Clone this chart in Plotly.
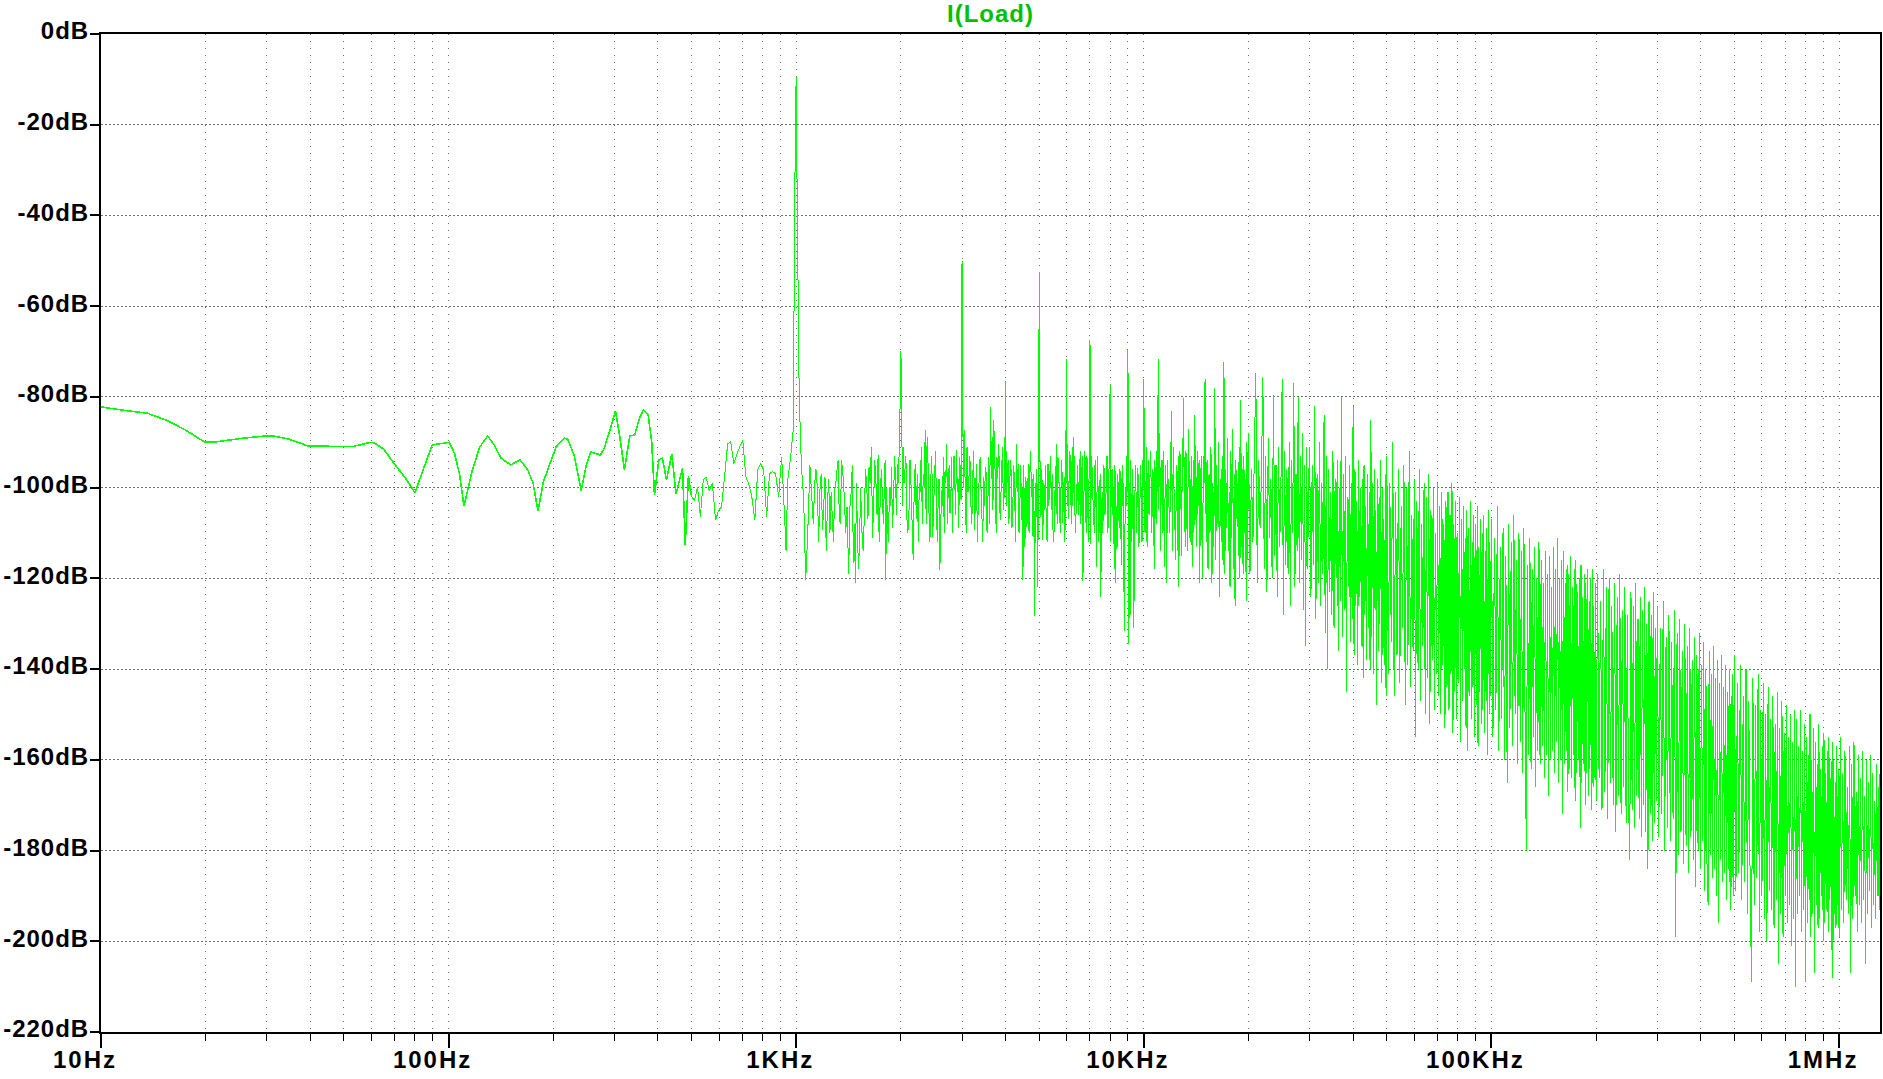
import plotly.graph_objects as go

# ---------------- data ----------------
# Low-frequency smooth part (Hz, dB)
lf_freq_hz = [10, 11.5, 13.6, 15.5, 17.5, 19.9, 21.4, 25.6, 29.8, 31.3,
              34.7, 39.4, 46, 53.3, 59.8, 61.3, 65, 70.5, 75, 80,
              85, 89.7, 100.5, 104, 107.5, 110.7, 117, 123, 129.5, 135,
              141.5, 150.8, 160.5, 169, 175, 180.8, 187, 194, 204, 214.8,
              220, 230, 240.7, 249, 256.5, 273.3, 280, 292, 302, 311,
              320.5, 332, 343, 353, 363, 375, 384, 391, 402.5, 412,
              423.6, 438.7, 451, 471, 479.5, 489.5]
lf_db = [-82.2, -82.9, -83.6, -85.2, -87.3, -90.0, -89.9, -89.1, -88.6, -88.6,
         -89.3, -90.8, -90.9, -90.9, -90.0, -90.2, -91.5, -95.2, -97.8, -101.1,
         -95.5, -90.6, -90.0, -92.5, -97.0, -104.1, -96.1, -91.0, -88.6, -90.5,
         -93.5, -95.0, -93.9, -96.1, -99.0, -105.2, -99.0, -95.4, -91.0, -89.1,
         -89.3, -93.0, -100.7, -95.0, -92.1, -92.8, -91.4, -87.0, -83.1, -89.0,
         -96.0, -88.6, -88.4, -85.0, -82.9, -83.9, -90.0, -101.5, -93.9, -93.5,
         -98.3, -92.6, -101.4, -95.7, -112.6, -97.5]

# Mid part 500 Hz - 6.4 kHz (fundamental and low harmonics)
mf1_freq_hz = [500, 510, 520, 530, 540, 550, 562, 574, 586, 598,
               610, 622, 635, 648, 661, 674, 688, 702, 716, 730,
               745, 760, 775, 790, 806, 822, 838, 855, 872, 890,
               908, 926, 935, 945, 964, 980, 995, 1000, 1006, 1020,
               1035, 1050, 1065, 1080, 1095, 1110, 1130, 1150, 1170, 1190,
               1210, 1230, 1250, 1270, 1290, 1310, 1330, 1350, 1375, 1400,
               1415, 1440, 1460, 1480, 1500, 1520, 1545, 1570, 1595, 1620,
               1645, 1670, 1695, 1720, 1745, 1770, 1795, 1810, 1830, 1855,
               1880, 1905, 1930, 1955, 1980, 1992, 2000, 2010, 2030, 2055,
               2080, 2110, 2140, 2170, 2200, 2230, 2260, 2290, 2320, 2350,
               2380, 2410, 2440, 2470, 2500, 2530, 2560, 2590, 2620, 2650,
               2680, 2710, 2740, 2770, 2800, 2830, 2860, 2890, 2920, 2950,
               2980, 2995, 3000, 3010, 3040, 3070, 3100, 3140, 3180, 3220,
               3260, 3300, 3340, 3380, 3420, 3460, 3500, 3540, 3580, 3620,
               3660, 3700, 3740, 3780, 3820, 3860, 3900, 3940, 3975, 4000,
               4030, 4070, 4110, 4150, 4200, 4250, 4300, 4350, 4400, 4450,
               4490, 4530, 4570, 4610, 4650, 4700, 4750, 4800, 4850, 4900,
               4950, 4985, 5000, 5015, 5060, 5120, 5180, 5240, 5300, 5360,
               5420, 5480, 5540, 5600, 5660, 5720, 5780, 5840, 5900, 5960,
               6000, 6040, 6100, 6160, 6220, 6280, 6340, 6400]
mf1_db = [-102, -102.8, -99.8, -106.4, -98.4, -97.6, -100.6, -99.1, -107.2, -105,
          -104.2, -97.6, -90.3, -89.9, -94.7, -92.8, -91, -89.5, -97.6, -99.1,
          -102, -107.2, -96.1, -94.7, -96.1, -106.4, -96.9, -96.5, -96.9, -102,
          -93.2, -106.4, -114, -98.4, -93.2, -87.3, -16.8, -9.4, -35, -80,
          -95.4, -102, -120.4, -109.4, -95, -102.8, -99.1, -99.8, -100.6, -109.4,
          -97.6, -103.5, -110.1, -106.4, -100.6, -96.1, -106.4, -93.9, -102, -104.2,
          -119, -100.6, -116.7, -121.1, -109.4, -113, -109.4, -106.4, -99.1, -95.4,
          -91, -103.5, -98.4, -92.8, -102, -102.8, -97.6, -120.4, -107.9, -99.8,
          -95.4, -103.5, -97.6, -94.7, -90.3, -80, -69.9, -77, -91, -96.1,
          -106.4, -105.7, -99.8, -116, -94.7, -96.9, -99.1, -91, -96.9, -87.3,
          -88.8, -105.7, -97.6, -110.8, -98.4, -101.3, -103.5, -118.2, -100.6, -93.2,
          -96.1, -90.3, -97.6, -105.7, -93.2, -95.4, -99.1, -91.7, -97.6, -93.2,
          -102.8, -53.6, -50.1, -74, -87.3, -105, -91, -97.6, -103.5, -97.6,
          -109.4, -94.7, -103.5, -93.2, -105.7, -97.6, -95.4, -110.1, -93.2, -82.2,
          -88.8, -85.1, -99.1, -93.2, -90.3, -107.2, -96.1, -102, -88.8, -76.5,
          -92, -93.9, -102, -96.1, -103.5, -100.6, -90.3, -94.7, -103.5, -107.2,
          -120.4, -103.5, -97.6, -108.6, -94.7, -96.1, -102, -110.8, -128.4, -106.4,
          -121.8, -85, -52.5, -75, -106.4, -111.6, -105, -108.6, -94.7, -98.4,
          -105, -109.4, -100.6, -90.3, -93.2, -103.5, -99.1, -107.9, -97.6, -87.3,
          -71.7, -93.2, -96.1, -100.6, -91, -88.8, -106.4, -99.1]

# Mid part 6.45 kHz - 15 kHz
mf2_freq_hz = [6450, 6500, 6560, 6620, 6680, 6740, 6800, 6860, 6920, 6970,
               7000, 7030, 7100, 7170, 7240, 7310, 7380, 7450, 7520, 7590,
               7660, 7730, 7800, 7870, 7940, 8000, 8060, 8140, 8220, 8300,
               8380, 8460, 8540, 8620, 8700, 8780, 8860, 8940, 9000, 9060,
               9130, 9200, 9280, 9360, 9440, 9520, 9600, 9680, 9760, 9840,
               9920, 10000, 10080, 10170, 10260, 10350, 10440, 10530, 10620, 10710,
               10800, 10890, 11000, 11090, 11180, 11270, 11360, 11450, 11540, 11640,
               11740, 11840, 11940, 12000, 12100, 12200, 12300, 12400, 12500, 12600,
               12700, 12800, 12900, 13000, 13110, 13220, 13330, 13440, 13550, 13660,
               13770, 13880, 14000, 14120, 14240, 14360, 14480, 14600, 14720, 14840,
               15000, 15120]
mf2_db = [-95, -106, -92, -100, -120.6, -96, -104, -93, -112, -90,
          -67.5, -112.5, -96, -106, -94, -117.6, -99, -108, -124, -101,
          -95, -106, -99, -110, -96, -77.3, -98, -106, -118, -121,
          -113, -105, -96, -117, -104, -131.6, -100, -93, -69.6, -134.5,
          -128, -106, -96, -131, -99, -110, -95.6, -113, -100, -108,
          -94, -76.1, -110, -91, -99.3, -106, -92, -110, -96, -118,
          -99, -92, -71.7, -88, -114, -102, -92, -117.6, -95, -121,
          -100, -110, -90, -83, -114, -99, -110, -95, -114, -122,
          -92, -106, -89, -80.2, -107, -92, -114, -87, -110, -99,
          -117.6, -94, -83.9, -106, -92, -99, -121, -96, -120, -93,
          -76.1, -112]

# Extra in-between FFT bins of the 1.1 kHz - 15 kHz stretch (merged by frequency)
mf3_freq_hz = [1120, 1140, 1160, 1180, 1200, 1220, 1240, 1260, 1280, 1300,
               1320, 1340, 1362, 1388, 1428, 1450, 1470, 1490, 1510, 1532,
               1558, 1582, 1608, 1632, 1658, 1682, 1708, 1732, 1758, 1782,
               1802, 1820, 1842, 1868, 1892, 1918, 1942, 1968,
               2020, 2042, 2068, 2095, 2125, 2155, 2185, 2215, 2245, 2275,
               2305, 2335, 2365, 2395, 2425, 2455, 2485, 2515, 2545, 2575,
               2605, 2635, 2665, 2695, 2725, 2755, 2785, 2815, 2845, 2875,
               2905, 2935, 2965,
               3025, 3055, 3085, 3120, 3160, 3200, 3240, 3280, 3320, 3360,
               3400, 3440, 3480, 3520, 3560, 3600, 3640, 3680, 3720, 3760,
               3800, 3840, 3880, 3920, 3958, 3990, 4015,
               4050, 4090, 4130, 4175, 4225, 4275, 4325, 4375, 4425, 4470,
               4510, 4550, 4590, 4630, 4675, 4725, 4775, 4825, 4875, 4925, 4970,
               5030, 5090, 5150, 5210, 5270, 5330, 5390, 5450, 5510, 5570,
               5630, 5690, 5750, 5810, 5870, 5930, 5980, 6020, 6070, 6130,
               6190, 6250, 6310, 6370, 6425,
               6530, 6590, 6650, 6710, 6770, 6830, 6890, 6945, 7065, 7135,
               7205, 7275, 7345, 7415, 7485, 7555, 7625, 7695, 7765, 7835,
               7905, 8030, 8100, 8180, 8260, 8340, 8420, 8500, 8580, 8660,
               8740, 8820, 8900, 8970, 9095, 9165, 9240, 9320, 9400, 9480,
               9560, 9640, 9720, 9800, 9880, 9960, 10040, 10125, 10215, 10305,
               10395, 10485, 10575, 10665, 10755, 10845, 10945, 11045, 11135, 11225,
               11315, 11405, 11495, 11590, 11690, 11790, 11890, 11970, 12050, 12150,
               12250, 12350, 12450, 12550, 12650, 12750, 12850, 12950, 13055, 13165,
               13275, 13385, 13495, 13605, 13715, 13825, 13940, 14060, 14180, 14300,
               14420, 14540, 14660, 14780, 14920, 15060, 15160]
mf3_db = [-108, -96, -112, -97, -104, -114, -98, -101, -112, -99,
          -94, -108, -97, -110, -104, -95, -108, -99, -118, -100,
          -114, -96, -107, -99, -111, -94, -106, -112, -96, -108,
          -94, -100, -112, -104, -109, -93, -106, -99,
          -104, -99, -93, -110, -94, -108, -100, -107, -112, -101,
          -108, -100, -108, -95, -112, -93, -104, -92, -112, -98,
          -108, -104, -110, -99, -108, -95, -102, -110, -93, -106,
          -101, -109, -96,
          -100, -95, -110, -101, -93, -108, -92, -101, -112, -98,
          -100, -112, -104, -97, -103, -108, -98, -105, -92, -110,
          -98, -95, -102, -91, -105, -95, -104,
          -99, -108, -94, -109, -95, -112, -101, -110, -95, -100,
          -95, -113, -99, -104, -110, -92, -98, -97, -99, -96, -104,
          -98, -96, -99, -95, -112, -104, -93, -97, -112, -104,
          -108, -96, -110, -94, -103, -112, -99, -104, -107, -92,
          -108, -104, -96, -110, -103,
          -99, -108, -93, -109, -92, -110, -97, -104, -93, -102,
          -110, -99, -93, -112, -97, -106, -110, -96, -104, -93,
          -108, -112, -96, -100, -95, -104, -97, -109, -107, -95,
          -99, -110, -104, -101, -99, -94, -112, -104, -108, -95,
          -104, -98, -109, -95, -112, -100, -98, -105, -113, -94,
          -103, -97, -104, -100, -94, -108, -101, -105, -96, -94,
          -110, -99, -105, -100, -94, -98, -107, -103, -96, -91,
          -104, -116, -101, -93, -108, -96, -115, -101, -95, -113,
          -100, -105, -95, -112, -93, -105, -110, -95, -113, -106,
          -94, -104, -93, -109, -99, -96, -104]

# High part (kHz, dB): dense noise band, one list pair per stretch
h1_freq_khz = [15.2, 15.3, 15.4, 15.5, 15.6, 15.7, 15.8, 15.9, 16.0, 16.1,
               16.2, 16.3, 16.4, 16.5, 16.6, 16.7, 16.8, 16.9, 17.0, 17.1,
               17.2, 17.3, 17.4, 17.5, 17.6, 17.7, 17.8, 17.9, 18.0, 18.1,
               18.2, 18.3, 18.4, 18.5, 18.6, 18.7, 18.8, 18.9, 19.0, 19.1,
               19.2, 19.3, 19.4, 19.5, 19.6, 19.7, 19.8, 19.9]
h1_db = [-94, -118, -97, -110, -91, -121, -99, -113, -78, -116,
         -95, -108, -90, -124, -98, -112, -93, -117, -72.2, -119,
         -96, -109, -89, -114, -101, -122, -92, -111, -87, -118,
         -97, -126, -94, -107, -99, -115, -91, -120, -80.6, -113,
         -96, -119, -93, -110, -98, -125, -90, -116]

h2_freq_khz = [20.0, 20.2, 20.4, 20.6, 20.8, 21.0, 21.2, 21.4, 21.6, 21.8,
               22.0, 22.2, 22.4, 22.6, 22.8, 23.0, 23.2, 23.4, 23.6, 23.8,
               24.0, 24.2, 24.4, 24.6, 24.8, 25.0, 25.2, 25.4, 25.6, 25.8,
               26.0, 26.2, 26.4, 26.6, 26.8, 27.0, 27.2, 27.4, 27.6, 27.8,
               28.0, 28.2, 28.4, 28.6, 28.8, 29.0, 29.2, 29.4, 29.6, 29.8]
h2_db = [-88, -119, -96, -112, -92, -74.8, -121, -94, -109, -97,
         -75.6, -118, -93, -123, -89, -111, -98, -120, -79.5, -115,
         -95, -124, -91, -113, -99, -76, -128, -92, -117, -96,
         -119, -90, -126, -94, -110, -77, -122, -97, -114, -80,
         -121, -93, -116, -88, -127, -95, -135, -91, -118, -98]

h3_freq_khz = [30.0, 30.25, 30.5, 30.75, 31.0, 31.25, 31.5, 31.75, 32.0, 32.25,
               32.5, 32.75, 33.0, 33.25, 33.5, 33.75, 34.0, 34.25, 34.5, 34.75,
               35.0, 35.25, 35.5, 35.75, 36.0, 36.25, 36.5, 36.75, 37.0, 37.25,
               37.5, 37.75, 38.0, 38.25, 38.5, 38.75, 39.0, 39.25, 39.5, 39.75,
               40.0, 40.25, 40.5, 40.75, 41.0, 41.25, 41.5, 41.75, 42.0, 42.25,
               42.5, 42.75, 43.0, 43.25, 43.5, 43.75, 44.0, 44.25, 44.5, 44.75,
               45.0, 45.25, 45.5, 45.75, 46.0, 46.25, 46.5, 46.75, 47.0, 47.25,
               47.5, 47.75, 48.0, 48.25, 48.5, 48.75, 49.0, 49.25, 49.5, 49.75]
h3_db = [-91, -124, -95, -117, -82, -129, -97, -121, -90, -126,
         -99, -119, -84, -132, -93, -140, -96, -123, -101, -128,
         -92, -131, -98, -120, -94, -136, -100, -125, -80, -133,
         -97, -127, -93, -145, -102, -122, -95, -134, -99, -129,
         -82, -137, -96, -126, -103, -139, -94, -124, -100, -135,
         -98, -142, -95, -128, -104, -138, -97, -131, -101, -140,
         -85, -133, -99, -141, -96, -127, -105, -148, -98, -136,
         -102, -130, -94, -143, -100, -137, -107, -139, -97, -146]

h4_freq_khz = [50.0, 50.5, 51.0, 51.5, 52.0, 52.5, 53.0, 53.5, 54.0, 54.5,
               55.0, 55.5, 56.0, 56.5, 57.0, 57.5, 58.0, 58.5, 59.0, 59.5,
               60.0, 60.5, 61.0, 61.5, 62.0, 62.5, 63.0, 63.5, 64.0, 64.5,
               65.0, 65.5, 66.0, 66.5, 67.0, 67.5, 68.0, 68.5, 69.0, 69.5,
               70.0, 70.5, 71.0, 71.5, 72.0, 72.5, 73.0, 73.5, 74.0, 74.5]
h4_db = [-93, -141, -99, -134, -90, -146, -101, -137, -96, -143,
         -104, -131, -95, -148, -100, -139, -92, -144, -106, -136,
         -98, -155, -103, -140, -96, -147, -108, -135, -99, -150,
         -102, -142, -97, -152, -105, -138, -100, -149, -110, -141,
         -99, -146, -104, -150, -101, -139, -108, -153, -103, -144]

h5_freq_khz = [75.0, 75.5, 76.0, 76.5, 77.0, 77.5, 78.0, 78.5, 79.0, 79.5,
               80.0, 80.5, 81.0, 81.5, 82.0, 82.5, 83.0, 83.5, 84.0, 84.5,
               85.0, 85.5, 86.0, 86.5, 87.0, 87.5, 88.0, 88.5, 89.0, 89.5,
               90.0, 90.5, 91.0, 91.5, 92.0, 92.5, 93.0, 93.5, 94.0, 94.5,
               95.0, 95.5, 96.0, 96.5, 97.0, 97.5, 98.0, 98.5, 99.0, 99.5]
h5_db = [-101, -149, -106, -141, -99, -154, -108, -145, -103, -151,
         -110, -143, -102, -156, -107, -147, -104, -140, -111, -153,
         -105, -158, -109, -146, -103, -151, -112, -144, -106, -155,
         -108, -148, -104, -157, -113, -145, -107, -152, -110, -149,
         -106, -154, -114, -147, -109, -159, -105, -150, -112, -146]

h6_freq_khz = [100, 101, 102, 103, 104, 105, 106, 107, 108, 109,
               110, 111, 112, 113, 114, 115, 116, 117, 118, 119,
               120, 121, 122, 123, 124, 125, 126, 127, 128, 129,
               130, 131, 132, 133, 134, 135, 136, 137, 138, 139,
               140, 141, 142, 143, 144, 145, 146, 147, 148, 149]
h6_db = [-107, -155, -111, -149, -104, -158, -113, -151, -109, -160,
         -115, -165, -108, -153, -112, -157, -106, -150, -116, -161,
         -110, -156, -114, -163, -109, -154, -180, -117, -159, -111,
         -162, -118, -155, -113, -166, -120, -158, -112, -161, -116,
         -157, -121, -164, -114, -159, -119, -168, -115, -160, -122]

h7_freq_khz = [150, 151, 152, 153, 154, 155, 156, 157, 158, 159,
               160, 161, 162, 163, 164, 165, 166, 167, 168, 169,
               170, 171, 172, 173, 174, 175, 176, 177, 178, 179,
               180, 181, 182, 183, 184, 185, 186, 187, 188, 189,
               190, 191, 192, 193, 194, 195, 196, 197, 198, 199]
h7_db = [-158, -113, -163, -118, -156, -111, -165, -120, -160, -116,
         -172, -114, -161, -121, -158, -117, -167, -119, -162, -115,
         -164, -122, -159, -118, -169, -116, -163, -123, -160, -120,
         -175, -117, -165, -124, -161, -119, -170, -121, -163, -118,
         -168, -125, -162, -120, -171, -118, -166, -126, -164, -121]

h8_freq_khz = [200, 202, 204, 206, 208, 210, 212, 214, 216, 218,
               220, 222, 224, 226, 228, 230, 232, 234, 236, 238,
               240, 242, 244, 246, 248, 250, 252, 254, 256, 258,
               260, 262, 264, 266, 268, 270, 272, 274, 276, 278,
               280, 282, 284, 286, 288, 290, 292, 294, 296, 298]
h8_db = [-169, -119, -164, -125, -171, -118, -167, -122, -173, -120,
         -165, -126, -170, -121, -176, -124, -168, -119, -172, -127,
         -166, -122, -174, -128, -169, -182, -123, -171, -126, -175,
         -121, -168, -129, -173, -124, -177, -127, -170, -122, -176,
         -130, -184, -125, -172, -128, -178, -123, -174, -131, -169]

h9_freq_khz = [300, 303, 306, 309, 312, 315, 318, 321, 324, 327,
               330, 333, 336, 339, 342, 345, 348, 351, 354, 357,
               360, 363, 366, 369, 372, 375, 378, 381, 384, 387,
               390, 393, 396, 399, 402, 405, 408, 411, 414, 417,
               420, 423, 426, 429, 432, 435, 438, 441, 444, 447,
               450, 453, 456, 459, 462, 465, 468, 471, 474, 477,
               480, 483, 486, 489, 492, 495, 498]
h9_db = [-126, -177, -131, -172, -125, -180, -133, -175, -128, -178,
         -134, -173, -127, -199, -132, -181, -129, -176, -136, -183,
         -130, -179, -135, -185, -131, -177, -138, -182, -133, -188,
         -137, -180, -132, -184, -139, -178, -134, -189, -140, -183,
         -192, -136, -181, -141, -186, -135, -184, -142, -190, -138,
         -196, -143, -182, -137, -187, -144, -185, -139, -191, -145,
         -184, -140, -193, -146, -188, -141, -190]

h10_freq_khz = [500, 505, 510, 515, 520, 525, 530, 535, 540, 545,
                550, 555, 560, 565, 570, 575, 580, 585, 590, 595,
                600, 605, 610, 615, 620, 625, 630, 635, 640, 645,
                650, 655, 660, 665, 670, 675, 680, 685, 690, 695,
                700, 705, 710, 715, 720, 725, 730, 735, 740, 745]
h10_db = [-137, -189, -143, -185, -139, -191, -146, -187, -140, -194,
          -147, -188, -209, -142, -192, -148, -186, -141, -198, -149,
          -190, -143, -195, -150, -200, -144, -189, -151, -193, -146,
          -197, -152, -191, -145, -205, -153, -194, -147, -199, -154,
          -190, -148, -196, -155, -192, -150, -201, -156, -195, -149]

h11_freq_khz = [750, 755, 760, 765, 770, 775, 780, 785, 790, 795,
                800, 805, 810, 815, 820, 825, 830, 835, 840, 845,
                850, 855, 860, 865, 870, 875, 880, 885, 890, 895,
                900, 905, 910, 915, 920, 925, 930, 935, 940, 945,
                950, 955, 960, 965, 970, 975, 980, 985, 990, 995]
h11_db = [-210, -151, -194, -157, -190, -149, -198, -158, -193, -152,
          -209, -155, -196, -159, -191, -150, -199, -160, -194, -153,
          -207, -156, -192, -161, -197, -152, -195, -162, -190, -157,
          -200, -154, -196, -163, -193, -158, -198, -155, -191, -164,
          -202, -156, -208, -160, -194, -165, -197, -157, -192, -162]

h12_freq_khz = [1000, 1008, 1016, 1024, 1032, 1040, 1048, 1056, 1064, 1072,
                1080, 1088, 1096, 1104, 1112, 1120, 1128, 1136, 1144, 1152,
                1160, 1168, 1176, 1184, 1192, 1200, 1208, 1216, 1224, 1232,
                1240, 1248, 1256, 1264, 1272, 1280, 1288, 1296, 1304, 1312,
                1320]
h12_db = [-199, -155, -193, -163, -196, -158, -191, -166, -194, -157,
          -207, -161, -195, -156, -190, -167, -198, -159, -192, -164,
          -196, -158, -191, -168, -205, -160, -194, -165, -189, -159,
          -197, -163, -192, -169, -195, -161, -190, -166, -193, -162,
          -187]

# Axis ticks
x_tick_hz = [10, 100, 1000, 10000, 100000, 1000000]
x_tick_text = ["10Hz", "100Hz", "1KHz", "10KHz", "100KHz", "1MHz"]
x_minor_hz = [20, 30, 40, 50, 60, 70, 80, 90,
              200, 300, 400, 500, 600, 700, 800, 900,
              2000, 3000, 4000, 5000, 6000, 7000, 8000, 9000,
              20000, 30000, 40000, 50000, 60000, 70000, 80000, 90000,
              200000, 300000, 400000, 500000, 600000, 700000, 800000, 900000]
y_tick_db = [0, -20, -40, -60, -80, -100, -120, -140, -160, -180, -200, -220]
y_tick_text = ["0dB", "-20dB", "-40dB", "-60dB", "-80dB", "-100dB", "-120dB",
               "-140dB", "-160dB", "-180dB", "-200dB", "-220dB"]

# ---------------- assemble ----------------
assert len(lf_freq_hz) == len(lf_db)
assert len(mf1_freq_hz) == len(mf1_db)
assert len(mf2_freq_hz) == len(mf2_db)
assert len(mf3_freq_hz) == len(mf3_db), (len(mf3_freq_hz), len(mf3_db))

mid_pairs = sorted(zip(mf1_freq_hz + mf2_freq_hz + mf3_freq_hz,
                       mf1_db + mf2_db + mf3_db))
mid_freq = [p[0] for p in mid_pairs]
mid_db = [p[1] for p in mid_pairs]

hf_khz_chunks = [h1_freq_khz, h2_freq_khz, h3_freq_khz, h4_freq_khz, h5_freq_khz, h6_freq_khz,
                 h7_freq_khz, h8_freq_khz, h9_freq_khz, h10_freq_khz, h11_freq_khz, h12_freq_khz]
hf_db_chunks = [h1_db, h2_db, h3_db, h4_db, h5_db, h6_db,
                h7_db, h8_db, h9_db, h10_db, h11_db, h12_db]
hf_freq = []
hf_db = []
for fk, d in zip(hf_khz_chunks, hf_db_chunks):
    assert len(fk) == len(d), (fk[0], len(fk), len(d))
    hf_freq += [v * 1000.0 for v in fk]
    hf_db += d

GREEN = "#00ff00"
FONT = "Liberation Sans, Arial, sans-serif"
GRID = "#6e6e6e"

fig = go.Figure()
# smooth low-frequency stretch (drawn a little heavier, as in the reference)
fig.add_trace(go.Scatter(
    x=lf_freq_hz + mid_freq[:1], y=lf_db + mid_db[:1], mode="lines",
    line=dict(color=GREEN, width=1.6, simplify=False),
    hoverinfo="skip", showlegend=False))
# noisy stretch
fig.add_trace(go.Scatter(
    x=mid_freq + hf_freq, y=mid_db + hf_db, mode="lines",
    line=dict(color=GREEN, width=1, simplify=False),
    hoverinfo="skip", showlegend=False))

fig.update_layout(
    width=1883, height=1079,
    margin=dict(l=101, r=1, t=34, b=47),
    paper_bgcolor="white", plot_bgcolor="white",
    title=dict(text="I(Load)", x=0.5, xref="paper", xanchor="center",
               y=1 - 13.5 / 1079, yref="container", yanchor="middle",
               font=dict(family=FONT, size=24, color="#00c000", weight="bold")),
)

fig.update_xaxes(
    type="log", range=[1, 6.1178],
    tickmode="array", tickvals=x_tick_hz, ticktext=x_tick_text,
    ticks="outside", ticklen=14, tickwidth=2, tickcolor="black",
    tickfont=dict(family=FONT, size=24, color="black", weight="bold"),
    ticklabelshift=-16, ticklabelstandoff=-9,
    showline=True, linewidth=2, linecolor="black", mirror=True,
    showgrid=True, gridcolor=GRID, gridwidth=1, griddash="1px,6px",
    zeroline=False,
    minor=dict(tickmode="array", tickvals=x_minor_hz, ticks="outside", ticklen=7,
               tickwidth=1, tickcolor="black", showgrid=True,
               gridcolor=GRID, gridwidth=1, griddash="1px,6px"),
)

fig.update_yaxes(
    range=[-220, 0],
    tickmode="array", tickvals=y_tick_db, ticktext=y_tick_text,
    ticks="outside", ticklen=9, tickwidth=2, tickcolor="black",
    tickfont=dict(family=FONT, size=24, color="black", weight="bold"),
    ticklabelstandoff=-4, ticklabelshift=-3,
    showline=True, linewidth=2, linecolor="black", mirror=True,
    showgrid=True, gridcolor=GRID, gridwidth=1, griddash="2px,2px",
    zeroline=False,
)

post = """
document.body.style.margin='0';
document.body.style.overflow='hidden';
document.querySelectorAll('.scatterlayer path').forEach(function(p){p.style.shapeRendering='crispEdges';});
document.querySelectorAll('.xtick text').forEach(function(t){t.style.letterSpacing='2px';});
document.querySelectorAll('.ytick text').forEach(function(t){t.style.letterSpacing='1px';});
document.querySelectorAll('.gtitle').forEach(function(t){t.style.letterSpacing='1px';});
"""
fig.write_html("out.html", config={"displayModeBar": False}, post_script=post)
